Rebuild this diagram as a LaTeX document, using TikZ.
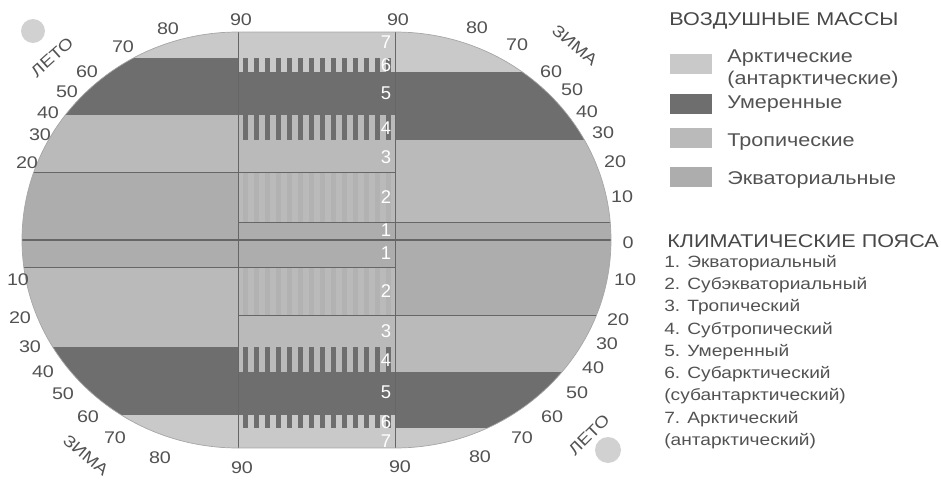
\documentclass[tikz,border=0pt]{standalone}
\usepackage{fontspec}
\setmainfont{Liberation Sans}
\newfontfamily\widesans[FakeStretch=1.17]{Liberation Sans}

\definecolor{arctic}{gray}{0.79}
\definecolor{temperate}{gray}{0.43}
\definecolor{tropical}{gray}{0.73}
\definecolor{equatorial}{gray}{0.68}
\definecolor{inkgray}{gray}{0.32}

\begin{document}
\begin{tikzpicture}[
    x=0.02cm, y=-0.02cm,
    every node/.style={font=\widesans\fontsize{10}{12}\selectfont, text=inkgray},
    lat/.style={font=\widesans\fontsize{9.6}{12}\selectfont, inner sep=0pt},
    season/.style={font=\widesans\fontsize{9.2}{12}\selectfont, inner sep=0pt},
    zone/.style={text=white, font=\fontsize{10.5}{12}\selectfont, inner sep=0pt},
    band/.style={draw=black!60, line width=0.5pt},
    swatch/.style={minimum width=0.84cm, minimum height=0.4cm, inner sep=0pt},
    title/.style={font=\widesans\fontsize{10.5}{12}\selectfont, text=black!72, anchor=west, inner sep=0pt},
    item/.style={anchor=west, inner sep=0pt, align=left,
        font=\widesans\fontsize{10.5}{12.7}\selectfont}
]
    \useasboundingbox (0,0) rectangle (941,480);

    % Oval of the globe
    \def\globe{(238,32) arc[start angle=270, end angle=90, x radius=216, y radius=208]
        -- (395,448) arc[start angle=90, end angle=-90, x radius=216, y radius=208] -- cycle}

    \begin{scope}
        \clip \globe;

        % Left half: northern summer
        \foreach \ya/\yb/\col in {32/58/arctic, 58/115/temperate, 115/172/tropical,
            172/267/equatorial, 267/347/tropical, 347/415/temperate, 415/448/arctic}
            \fill[\col] (0,\ya) rectangle (238,\yb);

        % Right half: northern winter
        \foreach \ya/\yb/\col in {32/72/arctic, 72/140/temperate, 140/222/tropical,
            222/315/equatorial, 315/372/tropical, 372/428/temperate, 428/448/arctic}
            \fill[\col] (395,\ya) rectangle (660,\yb);

        % Middle strip: belts
        \foreach \ya/\yb/\col in {32/58/arctic, 72/115/temperate, 140/172/tropical,
            222/267/equatorial, 315/347/tropical, 372/415/temperate, 428/448/arctic}
            \fill[\col] (238,\ya) rectangle (395,\yb);

        % Transitional belts (stripes)
        \foreach \ya/\yb/\col/\alt in {58/72/arctic/temperate, 115/140/tropical/temperate,
            347/372/tropical/temperate, 415/428/arctic/temperate} {
            \fill[\col] (238,\ya) rectangle (395,\yb);
            \foreach \i in {0,...,13}
                \fill[\alt] ({243+11*\i},\ya) rectangle ({248+11*\i},\yb);
        }
        \foreach \ya/\yb in {172/222, 267/315} {
            \fill[tropical] (238,\ya) rectangle (395,\yb);
            \foreach \i in {0,...,13}
                \fill[equatorial!60!tropical] ({243+11*\i},\ya) rectangle ({248+11*\i},\yb);
        }

        % Boundary lines
        \draw[band] (0,172) -- (395,172);
        \draw[band] (0,267) -- (395,267);
        \draw[band] (238,222) -- (660,222);
        \draw[band] (238,315) -- (660,315);
        \draw[band, line width=0.9pt] (0,240) -- (660,240);
        \draw[band] (238,0) -- (238,480);
        \draw[band] (395,0) -- (395,480);
    \end{scope}
    \draw[black!35, line width=0.4pt] \globe;

    % Belt numbers
    \foreach \y/\n in {42/7, 65/6, 93/5, 128/4, 157/3, 197/2, 230/1,
        253/1, 291/2, 331/3, 360/4, 392/5, 422/6, 441/7}
        \node[zone] (belt\y) at (386,\y) {\n};

    % Latitudes
    \foreach \x/\y/\t [count=\k] in {241/20/90, 168/29/80, 123/47/70, 87/72/60,
        67/92/50, 48/113/40, 40/135/30, 27/163/20,
        18/280/10, 20/318/20, 30/347/30, 43/372/40, 63/394/50, 88/417/60,
        115/438/70, 160/458/80, 242/468/90,
        398/20/90, 477/28/80, 517/45/70, 551/72/60, 572/90/50, 587/112/40,
        603/133/30, 615/162/20, 622/197/10, 628/243/0, 625/280/10, 618/320/20,
        607/344/30, 593/368/40, 577/393/50, 552/417/60, 522/438/70,
        480/457/80, 400/467/90}
        \node[lat] (lat\k) at (\x,\y) {\t};

    % Seasons
    \node[season, rotate=42] (summerN) at (52,57) {ЛЕТО};
    \node[season, rotate=-40] (winterN) at (575,45) {ЗИМА};
    \node[season, rotate=-40] (winterS) at (86,455) {ЗИМА};
    \node[season, rotate=45] (summerS) at (589,435) {ЛЕТО};

    % Sun marks
    \fill[black!18] (33,31) circle (12);
    \fill[black!18] (608,450) circle (13);

    % Air masses legend
    \node[title] (airTitle) at (669,21) {ВОЗДУШНЫЕ МАССЫ};
    \node[swatch, fill=arctic] (swArc) at (691,64) {};
    \node[item] (txtArc) at (727,69) {Арктические\\(антарктические)};
    \node[swatch, fill=temperate] (swTem) at (691,104) {};
    \node[item] (txtTem) at (727,104) {Умеренные};
    \node[swatch, fill=tropical] (swTro) at (691,138) {};
    \node[item] (txtTro) at (727,142) {Тропические};
    \node[swatch, fill=equatorial] (swEqu) at (691,177) {};
    \node[item] (txtEqu) at (727,180) {Экваториальные};

    % Climate belts legend
    \node[title] (beltTitle) at (667,241) {КЛИМАТИЧЕСКИЕ ПОЯСА};
    \node[item, font=\widesans\fontsize{9.3}{12.7}\selectfont] (beltList) at (664,352) {1. Экваториальный\\2. Субэкваториальный\\3. Тропический\\4. Субтропический\\5. Умеренный\\6. Субарктический\\(субантарктический)\\7. Арктический\\(антарктический)};

\end{tikzpicture}
\end{document}
